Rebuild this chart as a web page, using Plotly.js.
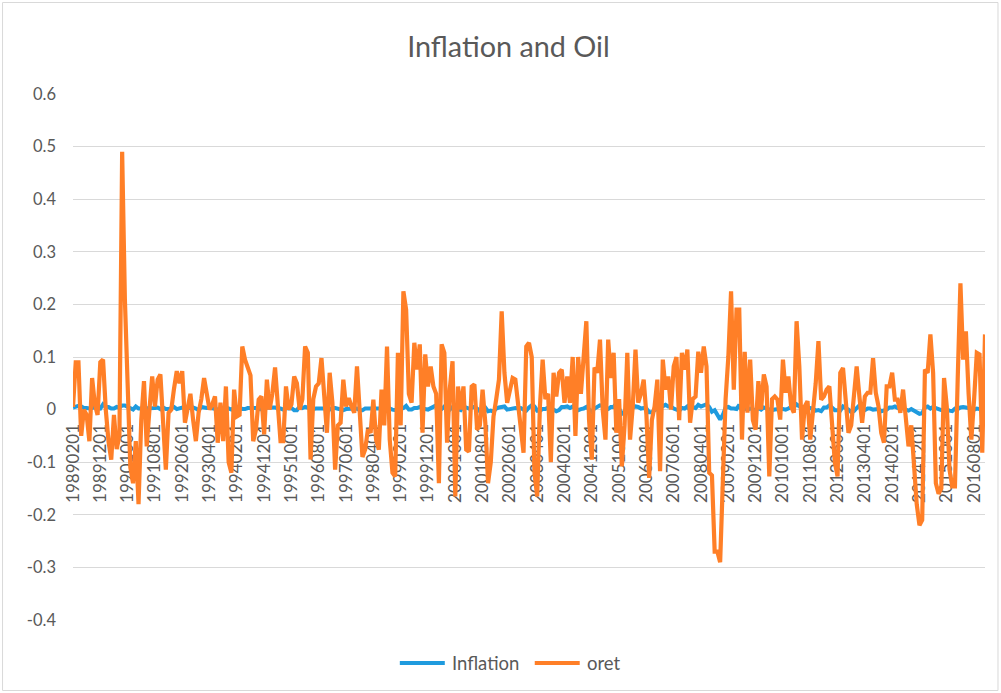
<!DOCTYPE html>
<html>
<head>
<meta charset="utf-8">
<script src="https://cdn.plot.ly/plotly-3.0.1.min.js"></script>
<style>
html,body{margin:0;padding:0;background:#fff;}
#chart{width:1001px;height:693px;}
</style>
</head>
<body>
<div id="chart"></div>
<script>
// ---- data ----
const startYear = 1989;
const startMonth = 2;

const tickLabels = ["19890201","19891201","19901001","19910801","19920601","19930401","19940201","19941201","19951001","19960801","19970601","19980401","19990201","19991201","20001001","20010801","20020601","20030401","20040201","20041201","20051001","20060801","20070601","20080401","20090201","20091201","20101001","20110801","20120601","20130401","20140201","20141201","20151001","20160801"];

const yTickVals = [-0.4,-0.3,-0.2,-0.1,0,0.1,0.2,0.3,0.4,0.5,0.6];
const yTickText = ["-0.4","-0.3","-0.2","-0.1","0","0.1","0.2","0.3","0.4","0.5","0.6"];

const seriesNames = ["Inflation", "oret"];
const seriesColors = ["#1F9BDE", "#FF7F27"];

const inflation = [
  0.004,0.005,0.007,0.006,0.003,0.003,0.002,0.003,0.005,0.003,0.002,
  0.010,0.005,0.005,0.002,0.002,0.005,0.004,0.008,0.008,0.006,0.002,0.000,
  0.006,0.002,0.002,0.002,0.003,0.003,0.002,0.003,0.004,0.001,0.004,0.001,
  0.001,0.004,0.005,0.001,0.002,0.004,0.002,0.003,0.003,0.004,0.002,-0.001,
  0.005,0.004,0.003,0.004,0.002,0.001,0.000,0.003,0.002,0.004,0.001,0.000,
  0.003,0.004,0.004,0.001,0.001,0.003,0.003,0.004,0.003,0.001,0.001,0.000,
  0.004,0.004,0.003,0.004,0.002,0.002,0.000,0.003,0.002,0.003,-0.001,-0.001,
  0.006,0.003,0.005,0.004,0.003,0.001,0.002,0.002,0.003,0.003,0.002,0.000,
  0.003,0.003,0.002,0.001,-0.001,0.001,0.001,0.002,0.002,0.002,-0.001,-0.001,
  0.002,0.002,0.002,0.002,0.002,0.001,0.001,0.001,0.001,0.002,0.000,-0.001,
  0.002,0.001,0.003,0.007,0.000,0.000,0.003,0.003,0.005,0.002,0.001,0.000,
  0.002,0.005,0.008,0.001,0.001,0.006,0.003,0.000,0.005,0.002,0.001,-0.001,
  0.006,0.004,0.002,0.004,0.005,0.002,-0.003,0.000,0.004,-0.003,-0.002,-0.004,
  0.002,0.004,0.006,0.006,0.000,0.001,0.001,0.003,0.002,0.003,0.000,-0.002,
  0.004,0.008,0.006,-0.002,-0.002,0.001,0.001,0.004,0.003,-0.001,-0.003,-0.001,
  0.005,0.005,0.006,0.003,0.006,0.003,-0.001,0.001,0.002,0.005,0.001,-0.004,
  0.002,0.006,0.008,0.007,-0.001,0.001,0.005,0.005,0.012,0.002,-0.008,-0.004,
  0.008,0.002,0.004,0.006,0.005,0.002,0.003,0.002,-0.005,-0.005,-0.001,0.001,
  0.003,0.006,0.009,0.006,0.006,0.002,0.000,-0.002,0.003,0.002,0.006,-0.001,
  0.005,0.003,0.009,0.006,0.008,0.010,0.005,-0.004,-0.001,-0.010,-0.019,-0.010,
  0.004,0.005,0.002,0.002,0.001,0.009,-0.002,0.002,0.000,0.002,0.001,-0.002,
  0.003,0.000,0.004,0.002,0.001,-0.001,0.000,0.001,0.001,0.001,0.000,0.002,
  0.005,0.005,0.010,0.006,0.005,-0.001,0.001,0.003,0.002,-0.002,-0.001,-0.003,
  0.004,0.004,0.008,0.003,-0.001,-0.001,-0.002,0.006,0.004,0.000,-0.005,-0.003,
  0.003,0.008,0.003,-0.001,0.002,0.002,0.000,0.001,0.001,-0.003,-0.002,0.000,
  0.004,0.004,0.006,0.003,0.004,0.002,0.000,-0.002,0.001,-0.003,-0.005,-0.008,
  -0.007,0.004,0.006,0.002,0.005,0.003,0.000,-0.001,-0.002,0.000,-0.002,-0.003,
  0.002,0.001,0.004,0.005,0.004,0.003,-0.002,0.001,0.002,0.001,-0.002,0.000
];

const oret = [
  0.005,0.09,0.09,-0.05,0.0,-0.01,-0.06,0.06,0.01,-0.01,0.09,
  0.095,0.0,-0.06,-0.095,-0.01,-0.075,-0.05,0.49,0.21,0.05,-0.11,-0.14,
  -0.06,-0.18,-0.02,0.054,-0.07,0.0,0.063,0.006,0.057,0.067,-0.03,-0.114,
  -0.006,0.0,0.04,0.073,0.05,0.073,-0.025,0.0,0.03,-0.02,-0.06,-0.006,
  0.02,0.06,0.03,0.0,0.01,0.025,-0.063,0.013,-0.06,0.044,-0.1,-0.12,
  0.038,-0.013,-0.01,0.12,0.095,0.08,0.065,-0.06,-0.038,0.019,0.025,-0.047,
  0.057,0.0,0.03,0.08,0.0,-0.06,-0.06,0.044,0.0,0.01,0.063,0.05,
  0.0,0.02,0.12,0.108,-0.095,0.02,0.044,0.05,0.098,0.032,-0.044,0.07,
  0.013,-0.114,-0.03,-0.025,0.057,0.006,0.022,0.006,-0.006,0.082,-0.006,-0.09,
  -0.076,-0.038,-0.044,0.019,-0.057,-0.076,0.038,-0.03,0.12,-0.057,-0.12,-0.127,
  0.108,-0.03,0.225,0.19,0.03,0.013,0.127,0.076,0.124,-0.044,0.105,0.044,
  0.082,0.044,0.03,-0.14,0.124,0.108,-0.063,0.04,0.092,-0.165,0.044,0.0,
  0.044,-0.076,-0.08,0.044,0.048,-0.038,-0.03,0.038,-0.025,-0.14,-0.1,-0.013,
  0.02,0.057,0.187,0.07,0.013,0.04,0.06,0.057,0.013,-0.03,-0.082,0.12,
  0.127,0.1,-0.12,-0.165,0.006,0.095,0.02,0.03,-0.1,0.07,0.025,0.07,
  0.076,0.013,0.063,0.013,0.1,-0.05,0.1,0.03,0.09,0.168,-0.02,-0.095,
  0.08,0.07,0.133,0.0,-0.057,0.133,0.06,0.108,-0.044,0.02,-0.108,-0.03,
  0.108,-0.057,0.006,0.114,0.013,0.03,0.057,-0.01,-0.13,-0.02,0.006,0.057,
  -0.117,0.095,0.038,0.063,0.0,0.082,0.1,-0.02,0.108,0.076,0.114,-0.025,
  0.02,0.025,0.11,0.07,0.12,0.082,-0.12,-0.125,-0.27,-0.27,-0.29,-0.1,
  0.02,0.1,0.225,0.038,0.19,0.19,-0.057,0.11,-0.006,0.095,-0.02,-0.038,
  0.054,0.0,0.067,0.044,-0.127,0.02,0.025,0.019,-0.019,0.095,0.032,0.063,
  0.006,-0.006,0.168,0.082,-0.057,0.006,0.016,-0.057,-0.006,0.05,0.13,0.019,
  0.025,0.038,0.044,-0.044,-0.1,-0.127,0.07,0.079,0.006,-0.044,-0.03,0.019,
  0.082,0.025,-0.025,0.025,0.032,0.032,0.098,0.032,0.006,-0.044,-0.063,0.044,
  0.044,0.07,0.019,0.019,-0.006,0.038,-0.02,-0.07,-0.03,-0.1,-0.18,-0.22,
  -0.21,0.076,0.07,0.143,0.07,-0.14,-0.16,-0.15,0.06,0.006,-0.114,-0.146,
  -0.146,0.057,0.24,0.095,0.149,0.03,-0.057,0.019,0.108,0.105,-0.082,0.143
];

// month categories YYYYMM01
const categories = [];
for (let k = 0; k < oret.length; k++) {
  const m0 = startMonth - 1 + k;
  const y = startYear + Math.floor(m0 / 12);
  const m = (m0 % 12) + 1;
  categories.push(String(y) + (m < 10 ? "0" + m : String(m)) + "01");
}

// ---- layout geometry ----
const W = 1001, H = 693;
const PL = 73, PR = 985.5, PT = 94, PB = 620;
const pw = PR - PL, ph = PB - PT;
const px = v => (v - PL) / pw;
const py = v => (PB - v) / ph;

const grey = '#595959';
const fontFam = 'Lato, "Open Sans", sans-serif';

const traces = [
  {
    type: 'scatter', mode: 'lines', name: seriesNames[0],
    x: categories, y: inflation,
    line: {color: seriesColors[0], width: 4},
    hoverinfo: 'skip', showlegend: false
  },
  {
    type: 'scatter', mode: 'lines', name: seriesNames[1],
    x: categories, y: oret,
    line: {color: seriesColors[1], width: 4.2},
    hoverinfo: 'skip', showlegend: false
  }
];

// custom legend (sample line + label) at the bottom, like the reference
const legendY = py(663);
const legendItems = [
  {x0: 400, x1: 445, tx: 450},
  {x0: 535, x1: 580, tx: 585}
];
const legendShapes = legendItems.map((it, k) => ({
  type: 'line', xref: 'paper', yref: 'paper',
  x0: px(it.x0), x1: px(it.x1), y0: legendY, y1: legendY,
  line: {color: seriesColors[k], width: 4.2}
}));
const legendAnnots = legendItems.map((it, k) => ({
  xref: 'paper', yref: 'paper', x: px(it.tx), y: legendY,
  xanchor: 'left', yanchor: 'middle', showarrow: false,
  text: seriesNames[k],
  font: {family: fontFam, size: 18.5, color: grey}
}));

const layout = {
  width: W, height: H,
  margin: {l: PL, r: W - PR, t: PT, b: H - PB, pad: 0},
  paper_bgcolor: '#ffffff',
  plot_bgcolor: '#ffffff',
  font: {family: fontFam, color: grey},
  showlegend: false,
  title: {
    text: 'Inflation and Oil',
    font: {family: fontFam, size: 28.8, color: grey},
    xref: 'container', x: 508.5 / W, xanchor: 'center',
    yref: 'container', y: 1 - 47 / H, yanchor: 'middle'
  },
  xaxis: {
    type: 'category',
    categoryorder: 'array', categoryarray: categories,
    range: [0, categories.length - 1],
    anchor: 'free', position: 0.4,
    tickmode: 'array', tickvals: tickLabels, ticktext: tickLabels,
    tickangle: -90,
    tickfont: {family: fontFam, size: 17, color: grey},
    ticks: '', showgrid: false, showline: false, zeroline: false,
    ticklabelstandoff: 10,
    layer: 'below traces',
    fixedrange: true
  },
  yaxis: {
    range: [-0.4, 0.6],
    tickmode: 'array', tickvals: yTickVals, ticktext: yTickText,
    tickfont: {family: fontFam, size: 16.5, color: grey},
    ticks: '', showline: false, zeroline: false,
    showgrid: true, gridcolor: '#d9d9d9', gridwidth: 1,
    ticklabelstandoff: 16,
    fixedrange: true
  },
  annotations: legendAnnots,
  shapes: [
    {
      type: 'rect', xref: 'paper', yref: 'paper',
      x0: px(2.5), x1: px(998.5), y0: py(2.5), y1: py(690.5),
      line: {color: '#d9d9d9', width: 1}, fillcolor: 'rgba(0,0,0,0)',
      layer: 'below'
    }
  ].concat(legendShapes)
};

Plotly.newPlot('chart', traces, layout, {staticPlot: true, displayModeBar: false});
</script>
</body>
</html>
